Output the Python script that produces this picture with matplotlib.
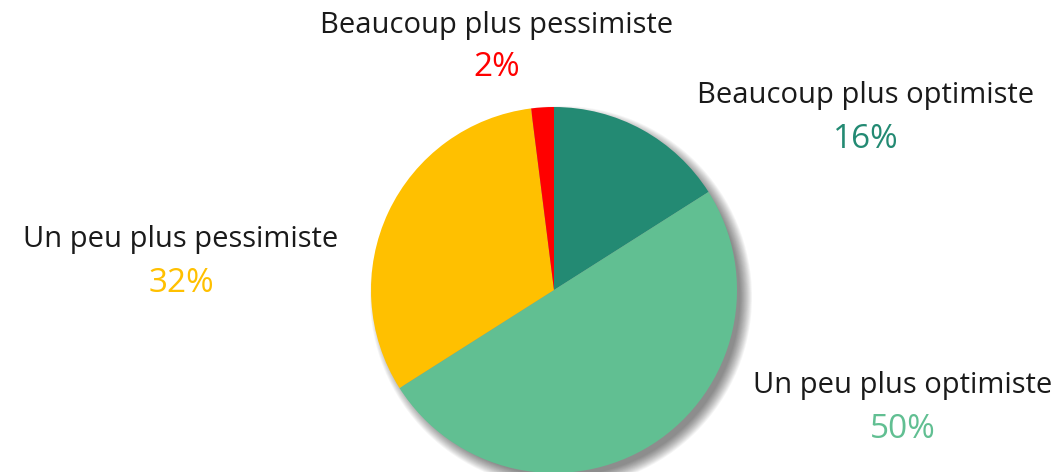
import matplotlib
matplotlib.use("Agg")
import matplotlib.pyplot as plt
from matplotlib.patches import Circle

labels = ["Beaucoup plus optimiste", "Un peu plus optimiste",
          "Un peu plus pessimiste", "Beaucoup plus pessimiste"]
values = [16, 50, 32, 2]
colors = ["#238A73", "#61BF92", "#FFC000", "#FF0000"]
pct_labels = ["16%", "50%", "32%", "2%"]

plt.rcParams['font.family'] = ['Open Sans', 'DejaVu Sans']

fig = plt.figure(figsize=(10.61, 4.72), dpi=100)
ax = fig.add_axes([0, 0, 1, 1])

cx, cy, r = 554, 182, 183

# soft shadow
for i in range(14):
    ax.add_patch(Circle((cx + 7, cy - 7), r + 8 - i * 0.9, color='#000000',
                        alpha=0.04, lw=0, zorder=1))

ax.pie(values, colors=colors, startangle=90, counterclock=False,
       center=(cx, cy), radius=r, frame=True,
       wedgeprops=dict(linewidth=0, zorder=2))
ax.set_xlim(0, 1061)
ax.set_ylim(0, 472)
ax.axis('off')

# label positions (x, y of name line)
pos = [(866, 472 - 96), (903, 472 - 386), (181, 472 - 240), (497, 472 - 25)]
for lab, pct, col, (x, y) in zip(labels, pct_labels, colors, pos):
    ax.text(x, y, lab, ha='center', va='center', fontsize=21, color='#1a1a1a')
    ax.text(x, y - 43, pct, ha='center', va='center', fontsize=24, color=col)

fig.savefig("out.png", dpi=100)
